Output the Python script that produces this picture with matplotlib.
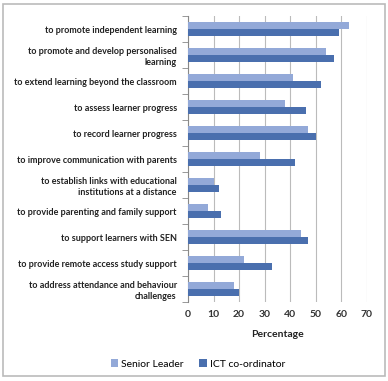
import matplotlib
matplotlib.use("Agg")
import matplotlib.pyplot as plt
import numpy as np
from matplotlib.patches import Rectangle

categories = [
    "to promote independent learning",
    "to promote and develop personalised\nlearning",
    "to extend learning beyond the classroom",
    "to assess learner progress",
    "to record learner progress",
    "to improve communication with parents",
    "to establish links with educational\ninstitutions at a distance",
    "to provide parenting and family support",
    "to support learners with SEN",
    "to provide remote access study support",
    "to address attendance and behaviour\nchallenges",
]
senior_leader = [63, 54, 41, 38, 47, 28, 10, 8, 44, 22, 18]
ict_coordinator = [59, 57, 52, 46, 50, 42, 12, 13, 47, 33, 20]
xticks = [0, 10, 20, 30, 40, 50, 60, 70]

c_senior = "#93A9D8"
c_ict = "#4A6FAE"

plt.rcParams['font.family'] = ['Lato', 'DejaVu Sans']

fig = plt.figure(figsize=(3.88, 3.81), dpi=100)
ax = fig.add_axes([0.4845, 0.2073, 0.4614, 0.7507])

n = len(categories)
y = np.arange(n)
h = 0.27
ax.barh(y - h / 2, senior_leader, height=h, color=c_senior, label="Senior Leader", zorder=3)
ax.barh(y + h / 2, ict_coordinator, height=h, color=c_ict, label="ICT co-ordinator", zorder=3)

ax.set_xlim(0, 70)
ax.set_ylim(n - 0.5, -0.5)
ax.set_xticks(xticks)
ax.set_xticklabels([str(v) for v in xticks], fontsize=7.5, fontweight='bold', color='#333333')
ax.set_yticks(y)
ax.set_yticklabels(categories, fontsize=6.5, fontweight='bold', color='#222222', linespacing=1.35)
ax.set_yticks(np.arange(n + 1) - 0.5, minor=True)
ax.tick_params(axis='y', which='major', length=0, pad=8)
ax.tick_params(axis='y', which='minor', length=4, color='#888888', direction='out')
ax.tick_params(axis='x', length=0, pad=6)
ax.grid(axis='x', color='#BBBBBB', linewidth=0.8, zorder=0)
for s in ['top', 'right', 'bottom']:
    ax.spines[s].set_visible(False)
ax.spines['left'].set_color('#888888')
ax.set_xlabel("Percentage", fontsize=7.5, fontweight='bold', color='#222222', labelpad=8)

handles, labels = ax.get_legend_handles_labels()
fig.legend(handles, labels, loc='center', bbox_to_anchor=(0.51, 0.045), ncol=2, frameon=False,
           fontsize=7.5, handlelength=0.7, handleheight=0.7, handletextpad=0.3, columnspacing=1.5)

fig.patches.append(Rectangle((0.008, 0.013), 0.984, 0.977, transform=fig.transFigure,
                             fill=False, edgecolor='#BBBBBB', linewidth=1.2))

fig.savefig("out.png", dpi=100)
